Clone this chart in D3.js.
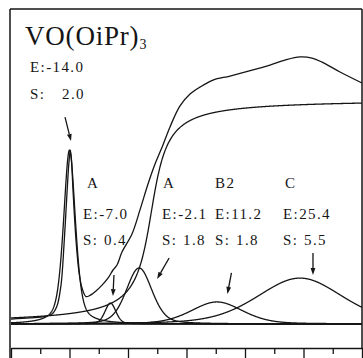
<!DOCTYPE html>
<html><head><meta charset="utf-8">
<script src="https://cdn.jsdelivr.net/npm/d3@7"></script>
<style>
html,body{margin:0;padding:0;background:#fff;}
svg{display:block;}
</style></head><body>
<svg id="chart" width="363" height="358"></svg>
<script>
// Energy axis (eV, relative to the edge onset); ticks every 5 eV
const energyDomain = [-24, 36];
const tickEnergies = d3.range(-24, 36.01, 5);

// Measured spectrum: energy (eV) and normalized absorption
const spectrumE = [-24.0, -20.75, -18.19, -16.99, -16.14, -15.45, -14.94, -14.43, -14.09, -13.86,
  -13.66, -13.40, -12.89, -12.38, -11.86, -11.18, -10.50, -9.47, -8.44, -7.42, -6.56, -5.88,
  -5.03, -3.32, -1.95, -0.58, 0.62, 1.98, 3.18, 4.89, 6.60, 8.31, 10.53, 13.44, 17.37, 20.27,
  22.84, 25.40, 27.45, 29.16, 32.24, 36.0];
const spectrumI = [0.022, 0.027, 0.033, 0.044, 0.080, 0.173, 0.351, 0.582, 0.720, 0.773,
  0.729, 0.596, 0.373, 0.231, 0.160, 0.122, 0.127, 0.147, 0.173, 0.204, 0.240, 0.262,
  0.320, 0.400, 0.507, 0.622, 0.711, 0.796, 0.876, 0.969, 1.022, 1.053, 1.084, 1.102, 1.129, 1.151,
  1.173, 1.187, 1.182, 1.164, 1.120, 1.071];

// Fitted peak components: position E, strength S, height, half width (eV), Lorentzian fraction
const peakNames = ["", "A", "A", "B2", "C"];
const peakE = [-14.0, -7.0, -2.1, 11.2, 25.4];
const peakS = [2.0, 0.4, 1.8, 1.8, 5.5];
const peakHeight = [0.773, 0.093, 0.249, 0.098, 0.204];
const peakHwhm = [1.2, 1.1, 2.6, 5.2, 8.6];
const peakLorentz = [0.5, 0.3, 0.3, 0.3, 0.3];

// Arctangent edge step
const stepE0 = 0.0;
const stepWidth = 2.05;
const stepHeight = 1.0;

const svg = d3.select("#chart");
const plotLeft = 11, plotRight = 362, plotTop = 9, plotBottom = 348, base = 324, unit = 225;
const serif = "'Liberation Serif', 'Times New Roman', 'DejaVu Serif', serif";

const x = d3.scaleLinear().domain(energyDomain).range([plotLeft, plotRight]);
const y = d3.scaleLinear().domain([0, 1]).range([base, base - unit]);

const ink = "#151515";
const sampleE = d3.range(energyDomain[0], energyDomain[1] + 1e-9, 0.05);

function pseudoVoigt(e, i) {
  const u = (e - peakE[i]) / peakHwhm[i];
  const eta = peakLorentz[i];
  return peakHeight[i] * (eta / (1 + u * u) + (1 - eta) * Math.exp(-Math.LN2 * u * u));
}
function step(e) {
  return stepHeight * (0.5 + Math.atan((e - stepE0) / stepWidth) / Math.PI);
}

// frame
const frame = svg.append("g").attr("stroke", ink).attr("stroke-width", 1.5).attr("fill", "none");
frame.append("line").attr("x1", plotLeft - 1).attr("x2", plotRight).attr("y1", plotTop).attr("y2", plotTop);
frame.append("line").attr("x1", plotLeft - 1).attr("x2", plotLeft - 1).attr("y1", plotTop).attr("y2", 358);
frame.append("line").attr("x1", plotRight).attr("x2", plotRight).attr("y1", plotTop).attr("y2", plotBottom);

// energy axis with alternating long / short ticks
const axis = svg.append("g").attr("transform", `translate(0,${plotBottom})`)
  .call(d3.axisBottom(x).tickValues(tickEnergies).tickFormat("").tickSize(10).tickSizeOuter(0));
axis.select(".domain").attr("stroke", ink).attr("stroke-width", 1.5);
axis.selectAll(".tick line").attr("stroke", ink).attr("stroke-width", 1.3)
  .attr("y2", (d, i) => i % 2 === 0 ? 10 : 6);

const lineGen = d3.line().x(d => x(d[0])).y(d => y(d[1]));
const curves = svg.append("g").attr("fill", "none").attr("stroke", ink)
  .attr("stroke-width", 1.3).attr("stroke-linejoin", "round");

// baseline
curves.append("path").attr("d", lineGen(energyDomain.map(e => [e, 0])));
// edge step
curves.append("path").attr("d", lineGen(sampleE.map(e => [e, step(e)])));
// peak components
peakE.forEach((_, i) => {
  curves.append("path").attr("d", lineGen(sampleE.map(e => [e, pseudoVoigt(e, i)])));
});
// measured spectrum
curves.append("path")
  .attr("d", d3.line().x(d => x(d[0])).y(d => y(d[1])).curve(d3.curveCatmullRom.alpha(0.5))(
    spectrumE.map((e, i) => [e, spectrumI[i]])));

// title
const title = svg.append("text").attr("x", 25).attr("y", 45)
  .attr("font-family", serif).attr("fill", ink)
  .attr("font-size", 27).attr("letter-spacing", 0.8);
title.append("tspan").text("VO(OiPr)");
title.append("tspan").attr("font-size", 14).attr("dy", 3.5).text("3");

// peak annotations
const fmt = v => (v < 0 ? "-" : "") + Math.abs(v).toFixed(1);
const labelX = [30, 83, 162, 215, 283];
const nameX = [0, 87, 163, 215, 285];
const labels = svg.append("g").attr("font-family", serif).attr("fill", ink)
  .attr("font-size", 15).attr("letter-spacing", 1.4);
peakE.forEach((e, i) => {
  const eY = i === 0 ? 72 : 219;
  const sY = i === 0 ? 99 : 245;
  if (peakNames[i]) labels.append("text").attr("x", nameX[i]).attr("y", 188).text(peakNames[i]);
  labels.append("text").attr("x", labelX[i]).attr("y", eY).text("E:" + fmt(e));
  const s = labels.append("text").attr("x", labelX[i]).attr("y", sY);
  s.append("tspan").text("S:");
  s.append("tspan").attr("x", labelX[i] + (i === 0 ? 32 : 21)).text(peakS[i].toFixed(1));
});

// arrows: tip offset from the peak top, tail offset from the tip (px)
const arrowTip = [[1.5, -9], [2.5, -7], [18, 11], [10.5, -8], [13, -3]];
const arrowTail = [[-6, -24], [1, -21], [12, -21], [4, -21], [0, -22]];
const arrows = svg.append("g");
peakE.forEach((e, i) => {
  const tx = x(e) + arrowTip[i][0], ty = y(peakHeight[i]) + arrowTip[i][1];
  const sx = tx + arrowTail[i][0], sy = ty + arrowTail[i][1];
  const ang = Math.atan2(ty - sy, tx - sx);
  const len = 7, hw = 2.4;
  const bx = tx - len * Math.cos(ang), by = ty - len * Math.sin(ang);
  arrows.append("line").attr("x1", sx).attr("y1", sy).attr("x2", bx).attr("y2", by)
    .attr("stroke", ink).attr("stroke-width", 1.3);
  arrows.append("path")
    .attr("d", `M${tx},${ty}L${bx - hw * Math.sin(ang)},${by + hw * Math.cos(ang)}L${bx + hw * Math.sin(ang)},${by - hw * Math.cos(ang)}Z`)
    .attr("fill", ink);
});
</script>
</body></html>
